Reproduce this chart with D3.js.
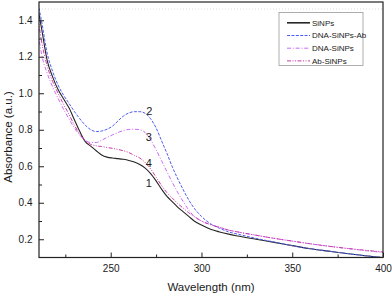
<!DOCTYPE html>
<html>
<head>
<meta charset="utf-8">
<script src="https://cdn.jsdelivr.net/npm/d3@7"></script>
<style>
    body { margin: 0; background: #fff; }
    svg text { font-family: "Liberation Sans", Arial, sans-serif; fill: #1a1a1a; }
</style>
</head>
<body>
<div id="chart"></div>
<script>

// wavelength grid (nm) shared by all spectra
let wavelength = [210, 212, 215, 218, 221, 224, 227, 230, 233, 236, 239, 242, 245, 248, 251, 254,
    257, 260, 263, 266, 269, 272, 275, 278, 281, 284, 287, 290, 293, 296, 300, 305, 310, 315,
    320, 330, 340, 350, 360, 370, 380, 390, 400];

let sinps = [1.46, 1.35, 1.18, 1.09, 1.02, 0.97, 0.92, 0.855, 0.79, 0.735, 0.71, 0.685, 0.662, 0.65,
    0.645, 0.642, 0.638, 0.632, 0.623, 0.61, 0.59, 0.56, 0.52, 0.475, 0.435, 0.405, 0.375, 0.35,
    0.325, 0.30, 0.278, 0.255, 0.24, 0.228, 0.218, 0.20, 0.183, 0.165, 0.148, 0.135, 0.122, 0.11, 0.10];

let dnaSinpsAb = [1.49, 1.39, 1.22, 1.12, 1.045, 0.99, 0.945, 0.90, 0.86, 0.825, 0.80, 0.79, 0.793,
    0.803, 0.82, 0.848, 0.875, 0.892, 0.899, 0.899, 0.89, 0.86, 0.81, 0.74, 0.67, 0.595, 0.53, 0.47,
    0.415, 0.37, 0.325, 0.285, 0.26, 0.24, 0.228, 0.205, 0.185, 0.165, 0.148, 0.135, 0.122, 0.11, 0.10];

let dnaSinps = [1.33, 1.21, 1.11, 1.035, 0.972, 0.913, 0.86, 0.81, 0.77, 0.742, 0.73, 0.73, 0.742,
    0.758, 0.772, 0.785, 0.796, 0.802, 0.803, 0.80, 0.785, 0.745, 0.69, 0.63, 0.57, 0.51, 0.455,
    0.405, 0.36, 0.325, 0.30, 0.28, 0.265, 0.25, 0.24, 0.222, 0.205, 0.19, 0.175, 0.162, 0.15, 0.138, 0.128];

let abSinps = [1.41, 1.28, 1.15, 1.065, 1.0, 0.94, 0.885, 0.825, 0.775, 0.74, 0.72, 0.712, 0.708,
    0.703, 0.698, 0.692, 0.685, 0.675, 0.66, 0.645, 0.62, 0.585, 0.54, 0.495, 0.455, 0.425, 0.395,
    0.37, 0.345, 0.325, 0.30, 0.28, 0.265, 0.25, 0.24, 0.222, 0.205, 0.19, 0.175, 0.162, 0.15, 0.14, 0.13];

let seriesNames = ["SiNPs", "DNA-SiNPs-Ab", "DNA-SiNPs", "Ab-SiNPs"];

let xMajorTicks = [250, 300, 350, 400];
let xMinorTicks = [225, 275, 325, 375];
let yMajorTicks = [0.2, 0.4, 0.6, 0.8, 1.0, 1.2, 1.4];
let yMinorTicks = [0.3, 0.5, 0.7, 0.9, 1.1, 1.3];

// numbered tags next to the curves
let tagText = ["1", "2", "3", "4"];
let tagWave = [271, 271.3, 271, 271];
let tagAbs = [0.508, 0.903, 0.76, 0.618];


class SpectraChart {

    constructor () {
        this.series = [sinps, dnaSinpsAb, dnaSinps, abSinps].map((vals, i) => ({
            name: seriesNames[i],
            points: wavelength.map((w, j) => ({x: w, y: vals[j]}))
        }));
        this.colors = ["#262626", "#4f5cf0", "#c96cf2", "#c93aa5"];
        this.dashes = [null, "3,1.4", "4,1.8,1,1.8", "4,1.5,1,1.5,1,1.5"];
        this.drawChart();
    }

    drawChart () {

        let width = 392, height = 296;
        let margin = {top: 2, right: 9, bottom: 38.5, left: 39};
        let w = width - margin.left - margin.right;
        let h = height - margin.top - margin.bottom;

        let svg = d3.select("#chart")
            .append("svg")
            .attr("width", width)
            .attr("height", height);

        let xScale = d3.scaleLinear()
            .domain([210.5, 400])
            .range([margin.left, margin.left + w]);

        let yScale = d3.scaleLinear()
            .domain([0.1, 1.5])
            .range([margin.top + h, margin.top]);

        // faint dotted line under the top frame
        svg.append("line")
            .attr("x1", margin.left).attr("x2", margin.left + w)
            .attr("y1", margin.top + 7).attr("y2", margin.top + 7)
            .attr("stroke", "#cfcfcf")
            .attr("stroke-width", 0.7)
            .attr("stroke-dasharray", "1,2");

        let line = d3.line()
            .x(d => xScale(d.x))
            .y(d => yScale(d.y))
            .curve(d3.curveMonotoneX);

        svg.append("clipPath").attr("id", "plot-clip")
            .append("rect")
            .attr("x", margin.left).attr("y", margin.top)
            .attr("width", w).attr("height", h);

        // draw black first so the coloured ones sit on top
        svg.append("g")
            .attr("clip-path", "url(#plot-clip)")
            .selectAll("path")
            .data(this.series)
            .join("path")
            .attr("d", d => line(d.points))
            .attr("fill", "none")
            .attr("stroke", (d, i) => this.colors[i])
            .attr("stroke-width", (d, i) => i === 0 ? 1.1 : 1)
            .attr("stroke-dasharray", (d, i) => this.dashes[i]);

        // axes, ticks pointing inward
        svg.append("g")
            .attr("transform", "translate(0," + (margin.top + h) + ")")
            .call(d3.axisBottom(xScale).tickValues(xMajorTicks).tickSizeInner(-5).tickSizeOuter(0).tickPadding(7.5));
        svg.append("g")
            .attr("transform", "translate(0," + (margin.top + h) + ")")
            .call(d3.axisBottom(xScale).tickValues(xMinorTicks).tickSizeInner(-3).tickSizeOuter(0).tickFormat(""));

        svg.append("g")
            .attr("transform", "translate(" + margin.left + ",0)")
            .call(d3.axisLeft(yScale).tickValues(yMajorTicks).tickFormat(d3.format(".1f"))
                .tickSizeInner(-5).tickSizeOuter(0).tickPadding(6.5));
        svg.append("g")
            .attr("transform", "translate(" + margin.left + ",0)")
            .call(d3.axisLeft(yScale).tickValues(yMinorTicks)
                .tickSizeInner(-3).tickSizeOuter(0).tickFormat(""));

        svg.selectAll(".domain").remove();
        svg.selectAll(".tick line").attr("stroke", "#222").attr("stroke-width", 1);
        svg.selectAll(".tick text").attr("font-size", 10).attr("fill", "#1a1a1a");

        // frame
        svg.append("rect")
            .attr("x", margin.left).attr("y", margin.top)
            .attr("width", w).attr("height", h)
            .attr("fill", "none")
            .attr("stroke", "#222")
            .attr("stroke-width", 1.2);

        // curve numbers
        svg.append("g")
            .selectAll("text")
            .data(tagText)
            .join("text")
            .attr("x", (d, i) => xScale(tagWave[i]))
            .attr("y", (d, i) => yScale(tagAbs[i]))
            .attr("dy", "0.35em")
            .attr("text-anchor", "middle")
            .attr("font-size", 11)
            .text(d => d);

        // axis titles
        svg.append("text")
            .text("Wavelength (nm)")
            .attr("x", margin.left + w / 2)
            .attr("y", 291)
            .attr("text-anchor", "middle")
            .attr("font-size", 11.5);

        svg.append("text")
            .text("Absorbance (a.u.)")
            .attr("transform", "translate(12," + 137 + ")rotate(-90)")
            .attr("text-anchor", "middle")
            .attr("font-size", 11.5);

        this.drawLegend(svg);
    }

    drawLegend (svg) {
        let lg = svg.append("g").attr("transform", "translate(279,12.5)");

        lg.append("rect")
            .attr("width", 84).attr("height", 53)
            .attr("fill", "#fff")
            .attr("stroke", "#9a9a9a")
            .attr("stroke-width", 0.8);

        let rows = lg.selectAll("g.row")
            .data(seriesNames)
            .join("g")
            .attr("class", "row")
            .attr("transform", (d, i) => "translate(0," + (10.3 + i * 12.7) + ")");

        rows.append("line")
            .attr("x1", 8).attr("x2", 31)
            .attr("stroke", (d, i) => this.colors[i])
            .attr("stroke-width", (d, i) => i === 0 ? 1.6 : 1)
            .attr("stroke-dasharray", (d, i) => this.dashes[i]);

        rows.append("text")
            .attr("x", 33)
            .attr("dy", "0.35em")
            .attr("font-size", 8)
            .text(d => d);
    }

}

new SpectraChart();
</script>
</body>
</html>
